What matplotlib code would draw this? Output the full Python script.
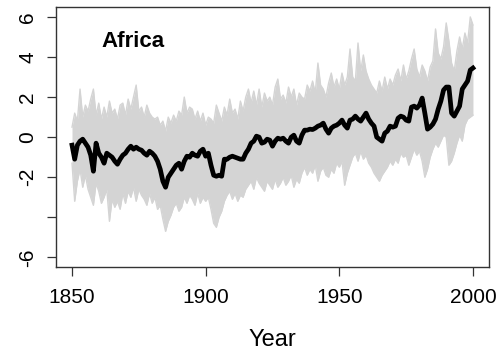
import numpy as np
import matplotlib
matplotlib.use("Agg")
import matplotlib.pyplot as plt

plt.rcParams['font.family'] = ['Liberation Sans', 'DejaVu Sans']

# years shown on the chart
years = np.arange(1850, 2001)

# black line: mean of the members, read by decade
mean_line = [
    -0.4, -1.1, -0.4, -0.2, -0.1, -0.3, -0.5, -0.9, -1.7, -0.3,
    -0.8, -1.0, -1.3, -0.8, -0.9, -1.0, -1.2, -1.35, -1.1, -0.9,
    -0.8, -0.6, -0.45, -0.6, -0.5, -0.6, -0.65, -0.8, -0.9, -0.7,
    -0.8, -0.95, -1.2, -1.6, -2.2, -2.5, -2.0, -1.8, -1.6, -1.4,
    -1.3, -1.6, -1.2, -0.95, -1.0, -0.8, -0.9, -0.95, -0.7, -0.6,
    -0.95, -0.8, -1.4, -1.9, -1.95, -1.9, -1.95, -1.1, -1.1, -1.0,
    -0.95, -1.0, -1.05, -1.1, -1.1, -0.8, -0.6, -0.3, -0.2, 0.05,
    0.0, -0.3, -0.25, -0.1, -0.15, -0.45, -0.2, -0.05, -0.1, -0.05,
    -0.2, -0.3, 0.0, 0.1, -0.2, -0.3, 0.1, 0.35, 0.35, 0.4,
    0.38, 0.45, 0.55, 0.6, 0.7, 0.4, 0.2, 0.45, 0.55, 0.6,
    0.7, 0.85, 0.6, 0.45, 0.85, 0.9, 1.05, 0.9, 0.8, 1.0,
    1.2, 0.9, 0.7, 0.55, 0.0, -0.1, -0.2, 0.2, 0.3, 0.55,
    0.5, 0.55, 0.95, 1.05, 1.0, 0.85, 0.8, 1.5, 1.55, 1.45,
    1.6, 1.95, 1.2, 0.4, 0.5, 0.65, 0.9, 1.4, 1.8, 2.35,
    2.5, 2.5, 1.2, 1.05, 1.3, 1.55, 2.4, 2.6, 2.8, 3.35,
    3.45,
]

# grey members: highest and lowest value per year
upper_line = [
    0.5, 1.2, 0.8, 2.4, 1.0, 1.6, 1.3, 1.9, 2.4, 1.1,
    1.7, 0.9, 1.5, 1.0, 1.8, 1.2, 1.4, 0.9, 1.6, 1.7,
    1.1, 1.9, 1.4, 2.0, 2.6, 1.3, 1.5, 1.0, 1.6, 1.2,
    1.0, 0.9, 1.0, 0.6, 0.8, 0.3, 1.0, 0.7, 1.1, 0.8,
    1.3, 1.1, 2.0, 1.2, 1.5, 1.4, 0.9, 1.3, 0.8, 1.2,
    0.6, 1.0, 0.9, 0.7, 1.6, 1.2, 0.8, 1.5, 1.1, 1.9,
    1.2, 1.4, 0.9, 1.8, 1.3, 2.0, 2.4, 1.7, 2.3, 1.6,
    2.4, 1.5, 2.2, 1.8, 2.0, 1.6, 2.5, 2.9, 1.9, 2.1,
    1.7, 2.5, 2.0, 2.4, 1.6, 2.2, 2.0, 1.9, 2.6, 2.3,
    2.8, 2.2, 3.7, 2.6, 2.4, 2.0, 2.7, 3.2, 2.5, 2.9,
    2.4, 3.2, 2.6, 3.0, 4.4, 3.0, 2.8, 4.7, 3.3, 4.1,
    3.3, 2.9, 2.6, 2.4, 2.2, 2.8, 2.3, 3.0, 2.4, 2.9,
    2.6, 3.1, 3.4, 2.8, 3.6, 2.9, 3.3, 3.9, 4.4, 3.4,
    3.0, 3.6, 3.3, 2.8, 3.5, 3.8, 5.4, 4.2, 3.9, 4.5,
    5.7, 4.8, 3.7, 3.3, 4.3, 5.0, 4.4, 5.2, 4.7, 6.0,
    5.6,
]

lower_line = [
    -1.3, -3.2, -2.2, -1.6, -2.5, -1.9, -2.6, -3.0, -3.4, -2.3,
    -2.7, -3.3, -3.0, -2.6, -4.2, -3.1, -3.5, -3.2, -3.6, -2.8,
    -3.3, -2.7, -3.0, -2.5, -3.2, -2.6, -2.9, -3.1, -3.4, -2.8,
    -3.3, -3.0, -3.6, -3.4, -4.1, -4.7, -4.2, -3.9, -3.5, -3.3,
    -3.7, -3.5, -3.0, -3.3, -2.9, -3.1, -3.4, -2.8, -3.3, -3.0,
    -3.2, -3.0, -3.6, -4.3, -4.5, -4.0, -3.7, -3.2, -2.9, -2.7,
    -3.1, -2.8, -3.2, -2.9, -3.0, -2.6, -2.4, -2.2, -2.6, -2.0,
    -2.3, -2.5, -2.7, -2.2, -2.4, -2.6, -2.1, -2.5, -2.3, -2.0,
    -2.4, -2.2, -1.9, -2.5, -2.1, -2.3, -1.8, -1.5, -1.9, -1.6,
    -1.8, -1.4, -2.2, -1.7, -1.5, -1.9, -2.0, -1.6, -1.8, -1.3,
    -1.5, -1.2, -2.4, -1.8, -1.4, -1.0, -0.8, -1.2, -0.7, -1.1,
    -0.9, -1.3, -1.5, -1.8, -2.0, -2.2, -1.9, -1.7, -1.5, -1.2,
    -1.4, -1.1, -1.3, -0.8, -1.0, -0.9, -1.4, -1.0, -0.6, -0.9,
    -0.7, -1.2, -2.0, -1.6, -1.0, -0.6, -0.3, -0.5, -0.2, 0.1,
    0.0, -1.4, -1.2, -0.8, -0.3, 0.1, -0.2, 0.6, 0.9, 1.0,
    1.1,
]

x_ticks = [1850, 1900, 1950, 2000]
y_ticks = [-6, -4, -2, 0, 2, 4, 6]
y_tick_labels = ["-6", "", "-2", "0", "2", "4", "6"]  # R drops the -4 label

grey = "#d4d4d4"

fig = plt.figure(figsize=(4.98, 3.5), dpi=100)
ax = fig.add_axes([0.1124, 0.2371, 0.8695, 0.742])

# grey band of members
ax.fill_between(years, lower_line, upper_line, color=grey, lw=0)
ax.plot(years, upper_line, color=grey, lw=1)
ax.plot(years, lower_line, color=grey, lw=1)
# mean
ax.plot(years, mean_line, color="black", lw=3.4, solid_joinstyle="round")

ax.set_xlim(1844, 2006)
ax.set_ylim(-6.48, 6.48)
ax.set_xticks(x_ticks)
ax.set_yticks(y_ticks)
ax.set_yticklabels(y_tick_labels)
ax.tick_params(axis="both", direction="out", length=6.5, width=0.9,
               color="#333333", labelsize=15)
ax.tick_params(axis="x", pad=8.5)
ax.tick_params(axis="y", labelrotation=90, pad=7)
for lbl in ax.get_yticklabels():
    lbl.set_va("center")
for sp in ax.spines.values():
    sp.set_color("#333333")
    sp.set_linewidth(1.0)

ax.set_xlabel("Year", fontsize=17)
ax.xaxis.set_label_coords(0.5, -0.24)
ax.xaxis.label.set_va("top")

ax.text(0.1055, 0.847, "Africa", transform=ax.transAxes, fontsize=16,
        fontweight="bold", va="baseline", ha="left")

fig.savefig("out.png", dpi=100)
